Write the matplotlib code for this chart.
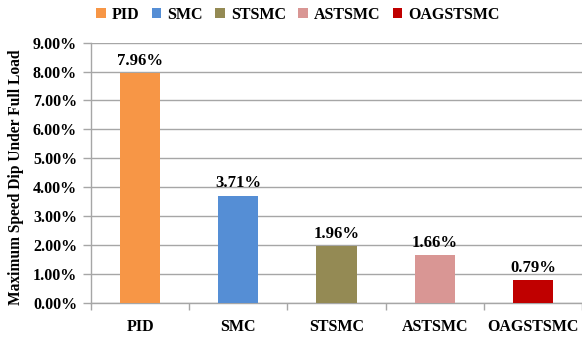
import matplotlib
matplotlib.use("Agg")
import matplotlib.pyplot as plt
from matplotlib.ticker import FuncFormatter, FixedLocator
from matplotlib.patches import Patch

controllers = ["PID", "SMC", "STSMC", "ASTSMC", "OAGSTSMC"]
speed_dip = [7.96, 3.71, 1.96, 1.66, 0.79]
colors = ["#F79646", "#558ED5", "#948A54", "#D99694", "#C00000"]
y_ticks = [0, 1, 2, 3, 4, 5, 6, 7, 8, 9]

plt.rcParams["font.family"] = ["Liberation Serif", "DejaVu Serif"]
plt.rcParams["font.weight"] = "bold"

fig = plt.figure(figsize=(5.82, 3.39), dpi=100)
ax = fig.add_axes([91 / 582, 1 - 302.7 / 339, 1 - 91 / 582, (302.7 - 42.7) / 339])

grid_c = "#A6A6A6"
x = list(range(len(controllers)))
bars = ax.bar(x, speed_dip, width=0.41, color=colors, zorder=3)

for xi, v in zip(x, speed_dip):
    ax.annotate(f"{v:.2f}%", (xi, v), xytext=(0, 3), textcoords="offset points",
                ha="center", va="bottom", fontsize=12, fontweight="bold")

ax.set_xlim(-0.5, len(controllers) - 0.5)
ax.set_ylim(0, 9)
ax.set_yticks(y_ticks)
ax.yaxis.set_major_formatter(FuncFormatter(lambda v, p: f"{v:.2f}%"))
ax.yaxis.grid(True, color=grid_c, linewidth=1, zorder=0)

ax.set_xticks(x)
ax.set_xticklabels(controllers, fontsize=11.5, fontweight="bold")
ax.xaxis.set_minor_locator(FixedLocator([i - 0.5 for i in range(len(controllers) + 1)]))
ax.tick_params(axis="x", which="major", length=0, pad=12)
ax.tick_params(axis="x", which="minor", length=5, color=grid_c, width=1)
ax.tick_params(axis="y", length=6, color=grid_c, width=1, labelsize=11.5, pad=4)

for lbl in ax.get_yticklabels():
    lbl.set_fontweight("bold")

for s in ["top", "right"]:
    ax.spines[s].set_visible(False)
for s in ["left", "bottom"]:
    ax.spines[s].set_color(grid_c)
    ax.spines[s].set_linewidth(1)

ax.set_ylabel("Maximum Speed Dip Under Full Load", fontsize=11.2, fontweight="bold")
ax.yaxis.set_label_coords(-67 / 491, 0.4815)

handles = [Patch(facecolor=c, edgecolor="none", label=n) for c, n in zip(colors, controllers)]
fig.legend(handles=handles, loc="center", bbox_to_anchor=(298 / 582, 1 - 15 / 339), ncol=5,
           frameon=False, handlelength=0.6, handleheight=0.6,
           handletextpad=0.4, columnspacing=0.75, prop={"weight": "bold", "size": 11.5})

fig.savefig("out.png", dpi=100)
